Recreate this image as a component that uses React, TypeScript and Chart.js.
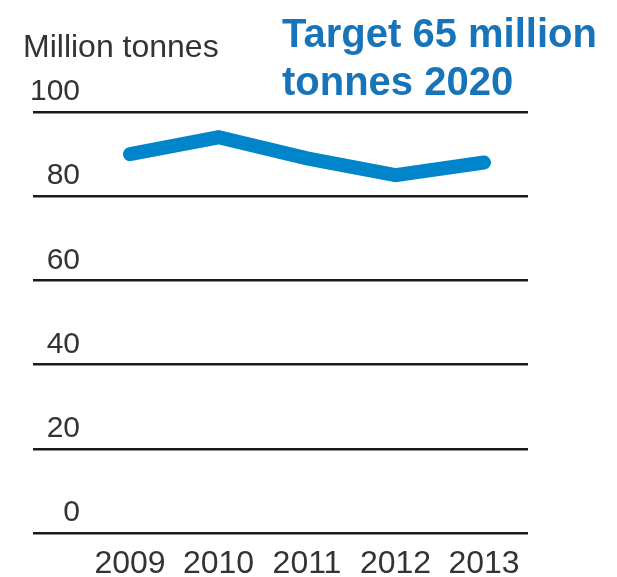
import React, { useEffect, useRef } from 'react';
import { Chart, registerables } from 'chart.js';

Chart.register(...registerables);

const years = [2009, 2010, 2011, 2012, 2013];
const wasteValues = [90, 94, 89, 85, 88];
const yTickValues = [0, 20, 40, 60, 80, 100];
const unitLabel = 'Million tonnes';
const titleLines = ['Target 65 million', 'tonnes 2020'];

const FONT = '"Liberation Sans", Arial, Helvetica, sans-serif';

const headerPlugin = {
  id: 'headerText',
  afterDraw(chart: any) {
    const ctx = chart.ctx;
    ctx.save();
    ctx.textAlign = 'left';
    ctx.textBaseline = 'alphabetic';
    ctx.fillStyle = '#333333';
    ctx.font = `32px ${FONT}`;
    ctx.fillText(unitLabel, 23, 57);
    ctx.fillStyle = '#1874b8';
    ctx.font = `bold 40px ${FONT}`;
    titleLines.forEach((t, i) => ctx.fillText(t, 282, 47 + i * 48));
    ctx.restore();
  },
};

export default function App() {
  const ref = useRef<HTMLCanvasElement>(null);

  useEffect(() => {
    if (!ref.current) return;
    const chart = new Chart(ref.current, {
      type: 'line',
      data: {
        datasets: [
          {
            label: 'Waste',
            data: years.map((y, i) => ({ x: y, y: wasteValues[i] })),
            borderColor: '#0085ca',
            borderWidth: 14,
            borderCapStyle: 'round',
            borderJoinStyle: 'miter',
            pointRadius: 0,
            pointHoverRadius: 0,
            fill: false,
            tension: 0,
          },
        ],
      },
      options: {
        responsive: false,
        animation: false,
        events: [],
        layout: { padding: { left: 33, right: 89, top: 112, bottom: 0 } },
        plugins: {
          legend: { display: false },
          title: { display: false },
          tooltip: { enabled: false },
        },
        scales: {
          x: {
            type: 'linear',
            min: 2007.904,
            max: 2013.497,
            grid: { display: false, drawTicks: false },
            border: { display: false },
            afterBuildTicks: (scale: any) => {
              scale.ticks = years.map((v) => ({ value: v }));
            },
            afterFit: (scale: any) => {
              scale.height = 44;
            },
            ticks: {
              color: '#333333',
              font: { size: 32, family: FONT, lineHeight: 1 },
              padding: 15,
              maxRotation: 0,
              autoSkip: false,
              callback: (v: any) => String(v),
            },
          },
          y: {
            type: 'linear',
            min: 0,
            max: 100,
            afterBuildTicks: (scale: any) => {
              scale.ticks = yTickValues.map((v) => ({ value: v }));
            },
            afterFit: (scale: any) => {
              scale.width = 0;
            },
            grid: { color: '#1a1a1a', lineWidth: 2.5, drawTicks: false },
            border: { display: false },
            ticks: {
              mirror: true,
              crossAlign: 'far',
              padding: -3,
              labelOffset: -20,
              color: '#333333',
              font: { size: 30, family: FONT },
            },
          },
        },
      },
      plugins: [headerPlugin],
    } as any);
    return () => chart.destroy();
  }, []);

  return (
    <div style={{ position: 'fixed', left: 0, top: 0, width: 617, height: 577, background: '#ffffff' }}>
      <canvas ref={ref} width={617} height={577} style={{ display: 'block' }} />
    </div>
  );
}
